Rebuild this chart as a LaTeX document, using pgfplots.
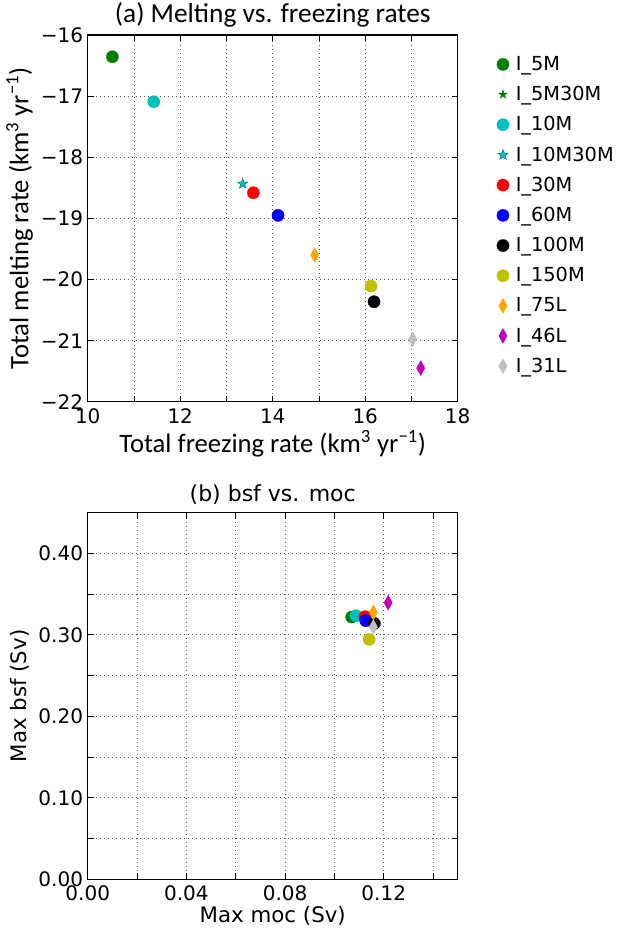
\documentclass[border=0pt]{standalone}
\usepackage{pgfplots}
\pgfplotsset{compat=1.18}
\usepackage{fontspec}
\setmainfont{DejaVu Sans}
\newfontfamily\calfont{Carlito}
\definecolor{mgreen}{rgb}{0,0.5,0}
\definecolor{mcyan}{rgb}{0,0.75,0.75}
\definecolor{mred}{rgb}{1,0,0}
\definecolor{mblue}{rgb}{0,0,1}
\definecolor{mblack}{rgb}{0,0,0}
\definecolor{myellow}{rgb}{0.75,0.75,0}
\definecolor{morange}{rgb}{1,0.647,0}
\definecolor{mmagenta}{rgb}{0.75,0,0.75}
\definecolor{mgray}{rgb}{0.75,0.75,0.75}
\pgfdeclareplotmark{fstar}{%
  \pgfpathmoveto{\pgfpointpolar{90}{\pgfplotmarksize}}%
  \pgfpathlineto{\pgfpointpolar{126}{0.4\pgfplotmarksize}}%
  \pgfpathlineto{\pgfpointpolar{162}{\pgfplotmarksize}}%
  \pgfpathlineto{\pgfpointpolar{198}{0.4\pgfplotmarksize}}%
  \pgfpathlineto{\pgfpointpolar{234}{\pgfplotmarksize}}%
  \pgfpathlineto{\pgfpointpolar{270}{0.4\pgfplotmarksize}}%
  \pgfpathlineto{\pgfpointpolar{306}{\pgfplotmarksize}}%
  \pgfpathlineto{\pgfpointpolar{342}{0.4\pgfplotmarksize}}%
  \pgfpathlineto{\pgfpointpolar{18}{\pgfplotmarksize}}%
  \pgfpathlineto{\pgfpointpolar{54}{0.4\pgfplotmarksize}}%
  \pgfpathclose\pgfusepathqfillstroke}
\pgfplotsset{
  common/.style={
    scale only axis, width=277.5pt, height=275pt,
    axis line style={line width=0.9pt},
    tick align=inside, major tick length=4.5pt,
    tick style={black, line width=0.7pt},
    grid=major,
    grid style={black!65, line width=0.6pt, dash pattern=on 0.8pt off 2.2pt},
    ticklabel style={font=\fontsize{15}{16}\selectfont},
    xticklabel style={yshift=-1.5pt},
    clip=false,
  },
  circ/.style={only marks, mark=*, mark size=4.6pt, draw=#1, fill=#1, mark options={draw=#1, fill=#1, line width=0.2pt}},
  dia/.style={only marks, mark=diamond*, mark size=5.6pt, mark options={xscale=0.75, draw=#1, fill=#1, line width=0.2pt}},
  sta/.style={only marks, mark=fstar, mark size=4.2pt, mark options={draw=black!60!#1, fill=#1, line width=0.2pt}},
}
\begin{document}
\begin{tikzpicture}
\useasboundingbox (0,0) rectangle (463.5pt,699pt);
% ---------- (a)
\begin{axis}[common,
  at={(65.8pt,397.7pt)}, anchor=south west,
  xmin=10, xmax=18, ymin=-22, ymax=-16,
  xtick={10,11,...,18}, xticklabels={10,,12,,14,,16,,18},
  ytick={-22,-21,...,-16}, yticklabels={−22,−21,−20,−19,−18,−17,−16},
  title={\calfont\fontsize{20.5}{22}\selectfont (a) Melting vs. freezing rates},
  title style={yshift=-3.5pt},
  xlabel={\calfont\fontsize{20}{22}\selectfont Total freezing rate (km\textsuperscript{3} yr\textsuperscript{−1})},
  ylabel={\calfont\fontsize{20}{22}\selectfont Total melting rate (km\textsuperscript{3} yr\textsuperscript{−1})},
  xlabel style={yshift=2pt},
  ylabel style={yshift=-1pt},
  legend style={at={(1.105,0.95)}, anchor=north west, draw=none, fill=none,
    font=\fontsize{14.5}{15}\selectfont, row sep=6.4pt, inner sep=0pt,
    /tikz/every odd column/.append style={column sep=3pt}},
  legend cell align=left,
  legend image code/.code={\draw[mark repeat=2,mark phase=2,#1] plot coordinates {(0cm,0cm)(0.12cm,0cm)(0.24cm,0cm)};},
]
\addplot[circ=mgreen] coordinates {(10.533,-16.355)};
\addlegendentry{I\_5M}
\addlegendimage{only marks, mark=fstar, mark size=3.2pt, mark options={draw=mgreen, fill=mgreen}}
\addlegendentry{I\_5M30M}
\addplot[circ=mcyan] coordinates {(11.427,-17.091)};
\addlegendentry{I\_10M}
\addplot[sta=mcyan] coordinates {(13.351,-18.433)};
\addlegendentry{I\_10M30M}
\addplot[circ=mred] coordinates {(13.582,-18.581)};
\addlegendentry{I\_30M}
\addplot[circ=mblue] coordinates {(14.115,-18.951)};
\addlegendentry{I\_60M}
\addplot[circ=mblack] coordinates {(16.191,-20.364)};
\addlegendentry{I\_100M}
\addplot[circ=myellow] coordinates {(16.126,-20.108)};
\addlegendentry{I\_150M}
\addplot[dia=morange] coordinates {(14.908,-19.600)};
\addlegendentry{I\_75L}
\addplot[dia=mmagenta] coordinates {(17.200,-21.450)};
\addlegendentry{I\_46L}
\addplot[dia=mgray] coordinates {(17.027,-20.975)};
\addlegendentry{I\_31L}
\end{axis}
% ---------- (b)
\begin{axis}[common,
  at={(65.8pt,39.5pt)}, anchor=south west,
  xmin=0, xmax=0.15, ymin=0, ymax=0.45,
  xtick={0,0.02,0.04,0.06,0.08,0.10,0.12,0.14},
  xticklabels={0.00,,0.04,,0.08,,0.12,},
  ytick={0,0.05,0.10,0.15,0.20,0.25,0.30,0.35,0.40},
  yticklabels={0.00,,0.10,,0.20,,0.30,,0.40},
  title={\fontsize{16.5}{18}\selectfont (b) bsf vs. moc},
  title style={yshift=-3pt},
  xlabel={\fontsize{16}{18}\selectfont Max moc (Sv)},
  ylabel={\fontsize{16}{18}\selectfont Max bsf (Sv)},
  xlabel style={yshift=3pt},
]
\addplot[circ=mgreen] coordinates {(0.1070,0.3219)};
\addplot[circ=mcyan] coordinates {(0.1088,0.3235)};
\addplot[circ=mred] coordinates {(0.1124,0.3223)};
\addplot[circ=mblue] coordinates {(0.1127,0.3174)};
\addplot[circ=mblack] coordinates {(0.1162,0.3141)};
\addplot[circ=myellow] coordinates {(0.1141,0.2945)};
\addplot[dia=morange] coordinates {(0.1158,0.3276)};
\addplot[dia=mmagenta] coordinates {(0.1218,0.3395)};
\addplot[dia=mgray] coordinates {(0.1158,0.3100)};
\end{axis}
\end{tikzpicture}
\end{document}
